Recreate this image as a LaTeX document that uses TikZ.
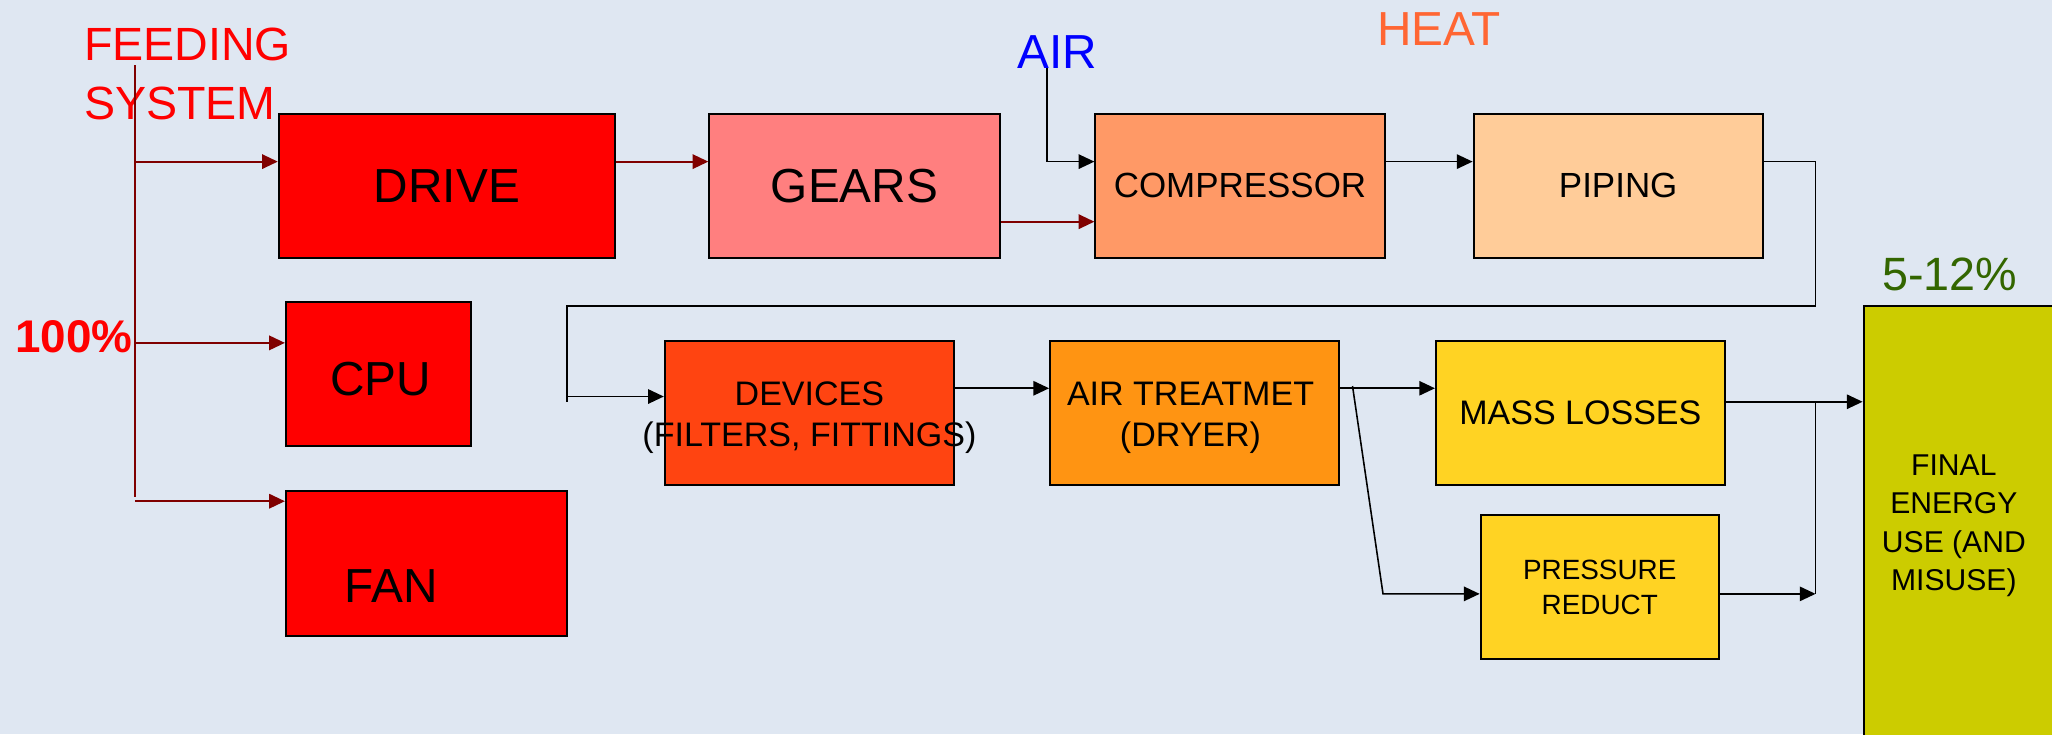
\documentclass[tikz,border=0pt]{standalone}
\usepackage{fontspec}
\setmainfont{Liberation Sans}
\usetikzlibrary{arrows.meta,positioning,calc}

\definecolor{bgblue}{HTML}{DFE7F2}
\definecolor{feedred}{HTML}{800000}
\definecolor{gearpink}{HTML}{FF7F7F}
\definecolor{compor}{HTML}{FF9966}
\definecolor{pipepeach}{HTML}{FFCC99}
\definecolor{devred}{HTML}{FF4411}
\definecolor{treatorange}{HTML}{FF9412}
\definecolor{lossyellow}{HTML}{FFD323}
\definecolor{finalolive}{HTML}{CCCC00}
\definecolor{heatorange}{HTML}{FF6633}
\definecolor{pctgreen}{HTML}{336600}

\begin{document}
\begin{tikzpicture}[x=1pt, y=-1pt,
  box/.style={draw=black, line width=1.5pt, inner sep=0pt, align=center},
  bigtxt/.style={font=\fontsize{36.5}{44}\selectfont},
  midtxt/.style={font=\fontsize{26.7}{32}\selectfont},
  twotxt/.style={font=\fontsize{26}{31.3}\selectfont, align=center},
  smalltxt/.style={font=\fontsize{21.3}{26.8}\selectfont},
  feedarrow/.style={draw=feedred, line width=1.5pt, -{Triangle[length=12pt,width=11pt]}},
  flowarrow/.style={draw=black, line width=1.2pt, -{Triangle[length=12pt,width=11pt]}},
  flowline/.style={draw=black, line width=1.2pt}]

\useasboundingbox (0,0) rectangle (1568,561);
\clip (0,0) rectangle (1568,561);
\fill[bgblue] (0,0) rectangle (1568,561);

% Labels round the chain
\node[anchor=north west, inner sep=0pt, align=left, text=red, font=\fontsize{35.6}{45}\selectfont] (feedtxt) at (64,21.5) {FEEDING\\SYSTEM};
\node[anchor=base, inner sep=0pt, text=red, font=\bfseries\fontsize{35}{42}\selectfont] (pct) at (56.5,269.7) {100\%};
\node[anchor=base, inner sep=0pt, text=blue, bigtxt] (air) at (807.8,52.2) {AIR};
\node[anchor=base, inner sep=0pt, text=heatorange, bigtxt] (heat) at (1099.6,34.4) {HEAT};
\node[anchor=base, inner sep=0pt, text=pctgreen, font=\fontsize{35.7}{43}\selectfont] (eff) at (1490,221.6) {5-12\%};

% Upper row
\node[box, fill=red, minimum width=257pt, minimum height=110pt, bigtxt] (drive) at (341.5,142) {DRIVE};
\node[box, fill=gearpink, minimum width=222pt, minimum height=110pt, bigtxt] (gears) at (653,142) {GEARS};
\node[box, fill=compor, minimum width=221pt, minimum height=110pt, midtxt] (comp) at (947.5,142) {COMPRESSOR};
\node[box, fill=pipepeach, minimum width=221pt, minimum height=110pt, midtxt] (piping) at (1236.5,142) {PIPING};

% Other consumers
\node[box, fill=red, minimum width=141.5pt, minimum height=110pt,
  label={[bigtxt, xshift=1.5pt, yshift=-3.6pt]center:CPU}] (cpu) at (289.2,286) {};
\node[box, fill=red, minimum width=214.5pt, minimum height=110.5pt,
  label={[bigtxt, xshift=-26.7pt, yshift=-16.8pt]center:FAN}] (fan) at (325.7,430.7) {};

% Lower row
\node[box, fill=devred, minimum width=221pt, minimum height=110.3pt,
  label={[twotxt, yshift=-4pt]center:{DEVICES\\(FILTERS, FITTINGS)}}] (devices) at (618.5,315.5) {};
\node[box, fill=treatorange, minimum width=220.6pt, minimum height=110.3pt,
  label={[twotxt, xshift=-3pt, yshift=-4pt]center:{AIR TREATMET\\(DRYER)}}] (treat) at (912.7,315.5) {};
\node[box, fill=lossyellow, minimum width=220.7pt, minimum height=110pt, twotxt] (mass) at (1207.6,315.6) {MASS LOSSES};
\node[box, fill=lossyellow, minimum width=182pt, minimum height=110pt, smalltxt] (press) at (1222.4,448.5) {PRESSURE\\REDUCT};
\node[box, fill=finalolive, minimum width=151pt, minimum height=336.4pt,
  label={[font=\fontsize{23}{29.3}\selectfont, align=center, xshift=-6.5pt]center:{FINAL\\ENERGY\\USE (AND\\MISUSE)}}] (final) at (1499.5,401.8) {};

% Feeding system
\coordinate (ftop) at (103,50);
\coordinate (fbot) at (103,380);
\draw[feedred, line width=1.5pt] (ftop) -- (fbot);
\foreach \y/\n in {123.5/drive, 262/cpu, 383/fan} {
  \coordinate (f) at (103,\y);
  \draw[feedarrow] (f) -- (f -| \n.west);
}

% Drive, gears, compressor, piping
\coordinate (row1) at (0,123.5);
\draw[feedarrow] (drive.east |- row1) -- (gears.west |- row1);
\coordinate (g1) at (765,169.4);
\draw[feedarrow] (g1) -- (comp.west |- g1);
\coordinate (a1) at (800,52);
\draw[flowarrow] (a1) |- (comp.west |- row1);
\draw[flowarrow] (comp.east |- row1) -- (piping.west |- row1);

% Return line down to the devices
\coordinate (p1) at (1387.3,234);
\coordinate (d1) at (433.2,307);
\coordinate (d2) at (433.2,303);
\draw[flowline] (piping.east |- row1) -| (p1) -| (d1);
\draw[flowarrow] (d2) -- (devices.west |- d2);

% Devices, treatment, losses
\coordinate (row2) at (0,296.7);
\draw[flowarrow] (devices.east |- row2) -- (treat.west |- row2);
\draw[flowarrow] (treat.east |- row2) -- (mass.west |- row2);
\coordinate (b1) at (1033.5,295);
\coordinate (b2) at (1056.8,453.8);
\draw[flowarrow] (b1) -- (b2) -- (press.west |- b2);

% Into final use
\coordinate (j1) at (1387.3,307);
\coordinate (j2) at (1387.3,453.8);
\draw[flowarrow] (mass.east |- j1) -- (final.west |- j1);
\draw[flowline] (j1) -- (j2);
\draw[flowarrow] (press.east |- j2) -- (j2);

\end{tikzpicture}
\end{document}
